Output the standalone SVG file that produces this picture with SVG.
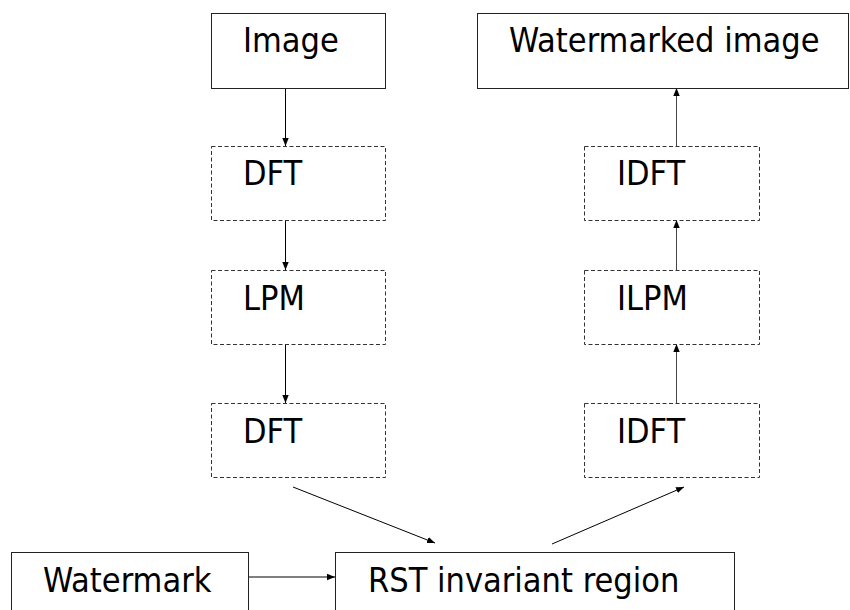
<svg xmlns="http://www.w3.org/2000/svg" width="850" height="610" viewBox="0 0 850 610">
  <defs>
    <marker id="arrow" viewBox="0 0 10 10" refX="10" refY="5" markerWidth="8" markerHeight="8" markerUnits="userSpaceOnUse" orient="auto">
      <path d="M0,1 L10,5 L0,9 z" fill="#000"/>
    </marker>
    <style>
      .box { fill: #fff; stroke: #222; stroke-width: 1; }
      .dash { fill: #fff; stroke: #333; stroke-width: 1; stroke-dasharray: 4 2.5; }
      .lbl { font-family: "DejaVu Sans Condensed", "DejaVu Sans", sans-serif; font-stretch: condensed; font-size: 34px; fill: #000; }
      .edge { stroke: #000; stroke-width: 1; fill: none; marker-end: url(#arrow); }
      .edge-up { stroke: #444; stroke-width: 1; fill: none; marker-end: url(#arrow); }
    </style>
  </defs>
  <rect width="850" height="610" fill="#fff"/>

  <g id="connectors">
    <line class="edge" x1="285.5" y1="88" x2="285.5" y2="146"/>
    <line class="edge" x1="285.5" y1="220" x2="285.5" y2="270"/>
    <line class="edge" x1="285.5" y1="344" x2="285.5" y2="403"/>
    <line class="edge" x1="293" y1="487" x2="435" y2="543"/>
    <line class="edge" x1="248" y1="577" x2="335" y2="577"/>
    <line class="edge" x1="552" y1="544" x2="684" y2="487"/>
    <line class="edge-up" x1="676.5" y1="403" x2="676.5" y2="344"/>
    <line class="edge-up" x1="676.5" y1="270" x2="676.5" y2="220"/>
    <line class="edge-up" x1="676.5" y1="146" x2="676.5" y2="88"/>
  </g>

  <g id="image">
    <rect class="box" x="211.5" y="13.5" width="174" height="75"/>
    <text class="lbl" x="243" y="52">Image</text>
  </g>
  <g id="dft1">
    <rect class="dash" x="211.5" y="146.5" width="174" height="74"/>
    <text class="lbl" x="243" y="185">DFT</text>
  </g>
  <g id="lpm">
    <rect class="dash" x="211.5" y="270.5" width="174" height="74"/>
    <text class="lbl" x="243" y="310">LPM</text>
  </g>
  <g id="dft2">
    <rect class="dash" x="211.5" y="403.5" width="174" height="74"/>
    <text class="lbl" x="243" y="443">DFT</text>
  </g>

  <g id="watermarked-image">
    <rect class="box" x="477.5" y="13.5" width="371" height="75"/>
    <text class="lbl" x="509" y="52">Watermarked image</text>
  </g>
  <g id="idft1">
    <rect class="dash" x="584.5" y="146.5" width="175" height="74"/>
    <text class="lbl" x="617" y="185">IDFT</text>
  </g>
  <g id="ilpm">
    <rect class="dash" x="584.5" y="270.5" width="175" height="74"/>
    <text class="lbl" x="617" y="310">ILPM</text>
  </g>
  <g id="idft2">
    <rect class="dash" x="584.5" y="403.5" width="175" height="74"/>
    <text class="lbl" x="617" y="443">IDFT</text>
  </g>

  <g id="watermark">
    <rect class="box" x="11.5" y="552.5" width="237" height="70"/>
    <text class="lbl" x="43" y="592">Watermark</text>
  </g>
  <g id="rst-region">
    <rect class="box" x="335.5" y="552.5" width="399" height="70"/>
    <text class="lbl" x="368" y="592">RST invariant region</text>
  </g>
</svg>
